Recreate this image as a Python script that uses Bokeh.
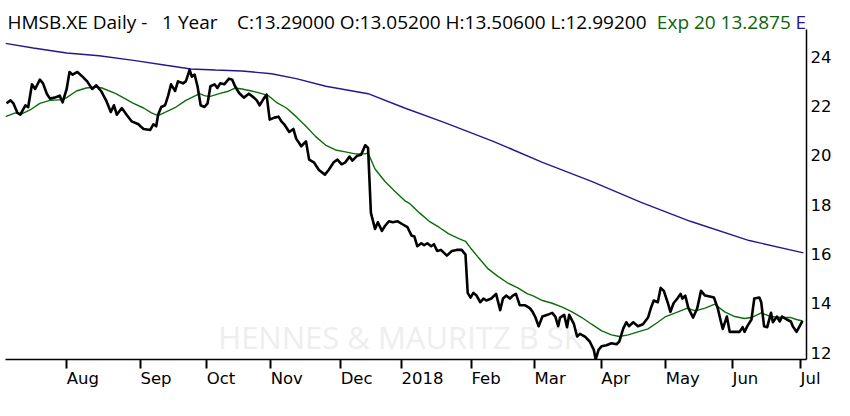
from bokeh.plotting import figure
from bokeh.models import Range1d, FixedTicker, Label
from bokeh.embed import file_html
from bokeh.resources import INLINE

# x values are trading-day indices, y values are prices (SEK)
close_day = [0.3, 1.6, 2.5, 3.8, 4.7, 6.3, 7.2, 8.4, 9.4, 10.9, 11.9, 13.1, 14.1, 15.6, 17.2, 18.1,
             19.4, 20.3, 21.3, 22.8, 24.4, 25.9, 27.5, 28.8, 30.3, 31.9, 33.4, 34.4, 35.3, 36.9, 38.4,
             40.0, 42.2, 42.8, 43.8, 45.9, 46.9, 47.8, 48.4, 49.4, 50.6, 51.6, 52.5, 53.8, 54.7, 56.3,
             57.2, 58.4, 59.1, 60.0, 60.9, 61.9, 63.1, 64.1, 65.0, 66.3, 67.2, 68.1, 69.4, 70.9, 71.9,
             72.8, 74.1, 75.6, 77.2, 78.8, 79.7, 80.6, 81.9, 82.8, 83.8, 85.3, 86.6, 87.5, 88.4, 90.0,
             91.3, 92.2, 93.8, 95.3, 96.3, 97.8, 99.4, 101.3, 102.5, 104.1, 105.3, 106.6, 107.8, 109.1,
             110.0, 111.6, 112.8, 114.1, 115.0, 115.9, 117.2, 118.1, 119.4, 120.3, 121.6, 122.8, 124.4,
             125.9, 127.5, 128.8, 129.7, 130.6, 131.9, 132.8, 133.8, 135.0, 135.9, 136.9, 138.1, 139.1,
             140.0, 141.6, 143.1, 144.7, 145.9, 146.6, 147.5, 148.4, 149.4, 150.6, 151.6, 152.5, 154.1,
             155.6, 156.9, 157.8, 158.8, 160.0, 160.9, 161.9, 163.1, 164.7, 166.3, 167.2, 168.1, 169.1,
             170.3, 171.9, 173.4, 174.4, 175.3, 175.9, 177.2, 178.1, 178.8, 180.3, 181.3, 182.2, 183.8,
             185.3, 186.6, 187.2, 188.1, 189.1, 190.6, 192.2, 193.8, 194.7, 195.9, 196.9, 197.8, 199.1,
             200.6, 202.2, 203.8, 204.7, 205.6, 206.9, 207.8, 208.8, 210.0, 210.9, 211.9, 213.1, 214.1,
             214.7, 215.6, 216.6, 218.1, 219.4, 220.6, 221.9, 223.4, 224.7, 225.9, 226.9, 227.5, 228.8,
             229.7, 231.3, 232.8, 233.8, 234.4, 235.3, 236.6, 237.5, 239.1, 239.7, 240.6, 241.6, 242.8,
             243.4, 244.7, 245.6, 246.3, 247.8, 249.1, 249.7, 250.9, 251.9, 252.8]
close_val = [22.11, 22.23, 22.11, 21.72, 21.65, 22.03, 21.96, 22.88, 22.69, 23.07, 22.92, 22.50, 22.30,
             22.34, 22.42, 22.15, 22.69, 23.38, 23.27, 23.38, 23.19, 23.00, 22.69, 22.84, 22.61, 22.23,
             21.76, 22.03, 21.65, 21.92, 21.65, 21.38, 21.26, 21.18, 21.07, 21.03, 21.26, 21.18, 21.65,
             21.96, 22.03, 22.42, 22.88, 22.61, 23.00, 22.92, 23.00, 23.46, 23.19, 23.27, 22.80, 22.03,
             21.96, 22.11, 22.80, 22.88, 22.73, 22.92, 22.88, 23.11, 23.07, 22.80, 22.53, 22.34, 22.50,
             22.34, 22.23, 22.03, 22.30, 22.46, 21.45, 21.53, 21.57, 21.38, 21.26, 20.95, 21.07, 20.68,
             20.37, 20.57, 19.83, 19.72, 19.41, 19.22, 19.41, 19.72, 19.83, 19.64, 19.72, 19.95, 19.79,
             19.99, 20.03, 20.41, 20.30, 17.67, 17.02, 17.29, 16.94, 17.13, 17.33, 17.29, 17.33, 17.21,
             17.09, 16.75, 16.71, 16.32, 16.44, 16.36, 16.44, 16.32, 16.40, 16.13, 16.17, 16.05, 15.94,
             16.13, 16.17, 16.17, 15.98, 14.43, 14.24, 14.43, 14.32, 14.05, 14.20, 14.12, 14.20, 14.39,
             13.73, 14.20, 14.32, 14.20, 14.32, 14.39, 13.93, 13.93, 13.81, 13.66, 13.43, 13.08, 13.47,
             13.54, 13.62, 13.47, 13.08, 13.43, 13.54, 13.04, 13.54, 13.16, 12.66, 12.77, 12.66, 12.46,
             12.12, 11.73, 12.12, 12.27, 12.31, 12.39, 12.35, 12.46, 12.97, 13.24, 13.08, 13.24, 13.08,
             13.16, 13.43, 13.81, 14.12, 14.05, 14.63, 14.51, 14.05, 13.66, 14.01, 14.20, 14.39, 14.20,
             14.32, 13.81, 13.43, 13.81, 14.51, 14.32, 14.28, 14.24, 13.81, 13.27, 12.97, 13.47, 12.85,
             12.85, 12.85, 13.04, 12.85, 13.08, 13.35, 14.20, 14.24, 14.05, 13.08, 13.04, 13.62, 13.24,
             13.47, 13.27, 13.47, 13.35, 13.27, 13.08, 12.85, 13.08, 13.29]

ema20_day = [0.0, 3.1, 5.3, 7.8, 10.9, 14.1, 18.1, 19.4, 22.5, 25.6, 28.8, 30.6, 35.0, 40.6, 43.8,
             46.3, 48.4, 50.9, 54.1, 57.2, 60.3, 61.6, 63.1, 64.7, 67.8, 70.9, 72.8, 75.0, 78.1, 81.3,
             83.4, 85.9, 89.1, 92.2, 95.3, 98.4, 101.6, 104.7, 107.8, 110.9, 114.1, 115.0, 117.2, 120.3,
             123.4, 126.6, 128.1, 131.3, 134.4, 137.5, 140.6, 143.8, 145.9, 147.5, 150.0, 153.1, 156.3,
             159.4, 162.5, 165.6, 167.2, 170.3, 173.4, 176.6, 179.7, 182.8, 185.9, 189.1, 192.2, 194.7,
             197.5, 200.6, 203.8, 206.9, 209.4, 212.5, 216.3, 218.8, 221.9, 225.0, 228.1, 231.3, 234.4,
             236.6, 239.7, 242.8, 245.9, 249.1, 250.9, 252.8]
ema20_val = [21.57, 21.72, 21.69, 21.84, 22.11, 22.23, 22.26, 22.34, 22.61, 22.73, 22.77, 22.73, 22.50,
             22.11, 21.92, 21.72, 21.61, 21.76, 21.96, 22.23, 22.42, 22.50, 22.42, 22.38, 22.50, 22.61,
             22.73, 22.69, 22.61, 22.50, 22.42, 22.15, 21.92, 21.57, 21.18, 20.76, 20.41, 20.22, 20.14,
             20.06, 20.06, 20.10, 19.45, 18.95, 18.56, 18.17, 18.06, 17.67, 17.33, 17.09, 16.82, 16.63,
             16.52, 16.25, 15.86, 15.40, 15.09, 14.82, 14.63, 14.39, 14.32, 14.12, 14.01, 13.85, 13.66,
             13.43, 13.16, 12.89, 12.73, 12.66, 12.73, 12.85, 12.97, 13.24, 13.47, 13.62, 13.81, 13.70,
             13.81, 13.97, 13.66, 13.47, 13.39, 13.43, 13.62, 13.47, 13.43, 13.43, 13.35, 13.29]

ema_long_day = [0.0, 8.8, 19.4, 29.7, 40.6, 50.9, 58.8, 66.6, 75.0, 84.4, 92.2, 101.6, 115.0, 126.6,
                139.1, 154.7, 170.3, 185.9, 201.6, 217.2, 235.9, 253.1]
ema_long_val = [24.54, 24.35, 24.15, 24.04, 23.85, 23.65, 23.50, 23.46, 23.42, 23.31, 23.11, 22.80,
                22.50, 21.92, 21.34, 20.57, 19.72, 18.95, 18.10, 17.33, 16.55, 16.05]

month_ticks = [19.4, 42.8, 63.8, 84.1, 106.3, 125.6, 147.8, 167.8, 189.0, 209.4, 230.6, 252.2]
month_labels = ["Aug", "Sep", "Oct", "Nov", "Dec", "2018", "Feb", "Mar", "Apr", "May", "Jun", "Jul"]
price_ticks = [12, 14, 16, 18, 20, 22, 24]

# header pieces: text, left edge in screen px, colour
header_parts = [
    ("HMSB.XE Daily -", 7, "#000000"),
    ("1 Year", 162, "#000000"),
    ("C:13.29000 O:13.05200 H:13.50600 L:12.99200", 237, "#000000"),
    ("Exp 20 13.2875", 658, "#0a640a"),
    ("Ex", 797, "#2a1490"),
]
watermark = "HENNES & MAURITZ B SK"

AXIS_FONT = "DejaVu Sans"
HEAD_FONT = "Open Sans"
W, H = 834, 400
LEFT, RIGHT, BOTTOM = 5, 26, 38
X0, X1 = 0.0, 254.06
Y0, Y1 = 11.73, 26.276          # the top of the frame holds the header line
PLOT_TOP_VALUE = 25.12           # where the price area (axis line) ends
px_per_day = (W - LEFT - RIGHT) / (X1 - X0)

p = figure(width=W, height=H, output_backend="svg", toolbar_location=None,
           x_range=Range1d(X0, X1), y_range=Range1d(Y0, Y1),
           y_axis_location="right", min_border_left=LEFT, min_border_top=0,
           min_border_right=RIGHT, min_border_bottom=BOTTOM)
p.background_fill_color = "white"
p.border_fill_color = "white"
p.outline_line_color = None
p.xgrid.visible = False
p.ygrid.visible = False

# watermark, drawn beneath the lines
p.add_layout(Label(x=(401 - LEFT) / px_per_day, y=12.66, text=watermark, text_align="center",
                   text_baseline="middle", text_font=HEAD_FONT, text_font_size="31px",
                   text_color="#eeeeee", level="underlay"))

p.line(ema_long_day, ema_long_val, line_color="#2a1490", line_width=1.4)
p.line(ema20_day, ema20_val, line_color="#0a6e0a", line_width=1.4)
p.line(close_day, close_val, line_color="black", line_width=2.6, line_join="round")

xa = p.xaxis[0]
xa.ticker = FixedTicker(ticks=month_ticks)
xa.major_label_overrides = {t: l for t, l in zip(month_ticks, month_labels)}
xa.minor_tick_line_color = None
xa.major_tick_out = 9
xa.major_tick_in = 0
xa.major_tick_line_width = 2
xa.major_tick_line_color = "black"
xa.axis_line_color = "black"
xa.axis_line_width = 1.5
xa.major_label_text_font = AXIS_FONT
xa.major_label_text_font_size = "16.5px"
xa.major_label_text_color = "black"
xa.major_label_orientation = -0.0001   # tiny tilt: labels start at their tick
xa.major_label_standoff = 10

ya = p.yaxis[0]
ya.ticker = FixedTicker(ticks=price_ticks)
ya.bounds = (Y0, PLOT_TOP_VALUE)
ya.minor_tick_line_color = None
ya.major_tick_out = 0
ya.major_tick_in = 0
ya.axis_line_color = "black"
ya.axis_line_width = 1.5
ya.major_label_text_font = AXIS_FONT
ya.major_label_text_font_size = "16.5px"
ya.major_label_text_color = "black"
ya.major_label_standoff = 4

for txt, xpx, col in header_parts:
    p.add_layout(Label(x=(xpx - LEFT) / px_per_day, y=25.39, text=txt, text_align="left",
                       text_baseline="alphabetic", text_font=HEAD_FONT, text_font_size="19px",
                       text_color=col))

open("out.html", "w").write(file_html(p, INLINE))
